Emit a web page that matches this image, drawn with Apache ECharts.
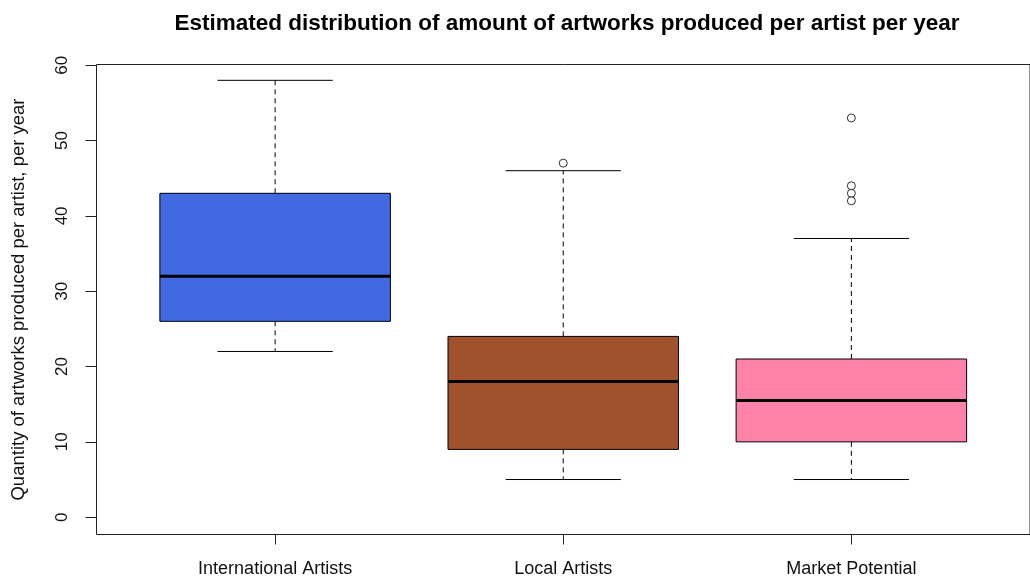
<!DOCTYPE html>
<html>
<head>
<meta charset="utf-8">
<title>Artworks per artist per year</title>
<script src="https://cdn.jsdelivr.net/npm/echarts@6/dist/echarts.min.js"></script>
<style>
  html, body { margin: 0; padding: 0; background: #fff; }
  #chart { width: 1030px; height: 583px; }
</style>
</head>
<body>
<div id="chart"></div>
<script>
// Groups and five-number summaries per group
const categories = ['International Artists', 'Local Artists', 'Market Potential'];
const whiskerLow  = [22, 5, 5];
const lowerQuart  = [26, 9, 10];
const medians     = [32, 18, 15.5];
const upperQuart  = [43, 24, 21];
const whiskerHigh = [58, 46, 37];
// Points beyond the whiskers
const outliers = [[], [47], [53, 44, 43, 42]];
// Axis ticks
const yTicks = [0, 10, 20, 30, 40, 50, 60];
const xTicks = [1, 2, 3];

const boxColors = ['#4169E1', '#A0522D', '#FF82AB'];

const boxData = categories.map((c, i) => [i + 1, whiskerLow[i], lowerQuart[i], medians[i], upperQuart[i], whiskerHigh[i]]);
const outlierData = [];
outliers.forEach((list, i) => list.forEach(v => outlierData.push([i + 1, v])));

const FONT = '"Liberation Sans", Arial, sans-serif';

function renderBox(params, api) {
  const x = api.value(0);
  const lo = api.coord([x, api.value(1)]);
  const q1 = api.coord([x, api.value(2)]);
  const md = api.coord([x, api.value(3)]);
  const q3 = api.coord([x, api.value(4)]);
  const hi = api.coord([x, api.value(5)]);
  const half = api.size([0.4, 0])[0];
  const capHalf = api.size([0.2, 0])[0];
  const cx = lo[0];
  const dash = { stroke: '#000', lineWidth: 1, lineDash: [5, 4] };
  const solid = { stroke: '#000', lineWidth: 1 };
  return {
    type: 'group',
    children: [
      { type: 'line', shape: { x1: cx, y1: q3[1], x2: cx, y2: hi[1] }, style: dash },
      { type: 'line', shape: { x1: cx, y1: q1[1], x2: cx, y2: lo[1] }, style: dash },
      { type: 'line', shape: { x1: cx - capHalf, y1: hi[1], x2: cx + capHalf, y2: hi[1] }, style: solid },
      { type: 'line', shape: { x1: cx - capHalf, y1: lo[1], x2: cx + capHalf, y2: lo[1] }, style: solid },
      { type: 'rect', shape: { x: cx - half, y: q3[1], width: half * 2, height: q1[1] - q3[1] },
        style: { fill: boxColors[params.dataIndex], stroke: '#000', lineWidth: 1 } },
      { type: 'line', shape: { x1: cx - half, y1: md[1], x2: cx + half, y2: md[1] },
        style: { stroke: '#000', lineWidth: 3 } }
    ]
  };
}

const chart = echarts.init(document.getElementById('chart'), null, { renderer: 'canvas' });
chart.setOption({
  animation: false,
  backgroundColor: '#fff',
  title: {
    text: 'Estimated distribution of amount of artworks produced per artist per year',
    left: 562,
    top: 7,
    textAlign: 'center',
    textStyle: { fontFamily: FONT, fontSize: 22.5, fontWeight: 'bold', color: '#000' }
  },
  grid: {
    left: 96.5,
    top: 64.5,
    width: 941,
    height: 470,
    show: true,
    borderColor: '#222',
    borderWidth: 1,
    backgroundColor: 'transparent',
    containLabel: false
  },
  xAxis: {
    type: 'value',
    min: 0.38,
    max: 3.62,
    axisLine: { show: false, onZero: false },
    splitLine: { show: false },
    axisTick: { show: true, customValues: xTicks, length: 10, lineStyle: { color: '#222' } },
    axisLabel: {
      customValues: xTicks,
      margin: 26,
      fontFamily: FONT, fontSize: 18, color: '#111',
      formatter: v => categories[Math.round(v) - 1] || ''
    }
  },
  yAxis: {
    type: 'value',
    min: -2.3,
    max: 60.1,
    name: 'Quantity of artworks produced per artist, per year',
    nameLocation: 'middle',
    nameRotate: 90,
    nameGap: 68,
    nameTextStyle: { fontFamily: FONT, fontSize: 18.5, color: '#111' },
    axisLine: { show: false },
    splitLine: { show: false },
    axisTick: { show: true, customValues: yTicks, length: 11, lineStyle: { color: '#222' } },
    axisLabel: {
      customValues: yTicks,
      rotate: 90,
      margin: 26,
      fontFamily: FONT, fontSize: 17, color: '#111'
    }
  },
  series: [
    {
      type: 'custom',
      renderItem: renderBox,
      data: boxData,
      encode: { x: 0, y: [1, 2, 3, 4, 5] },
      z: 2
    },
    {
      type: 'scatter',
      data: outlierData,
      symbol: 'circle',
      symbolSize: 8,
      itemStyle: { color: '#fff', borderColor: '#000', borderWidth: 1 },
      z: 3
    }
  ]
});
</script>
</body>
</html>
